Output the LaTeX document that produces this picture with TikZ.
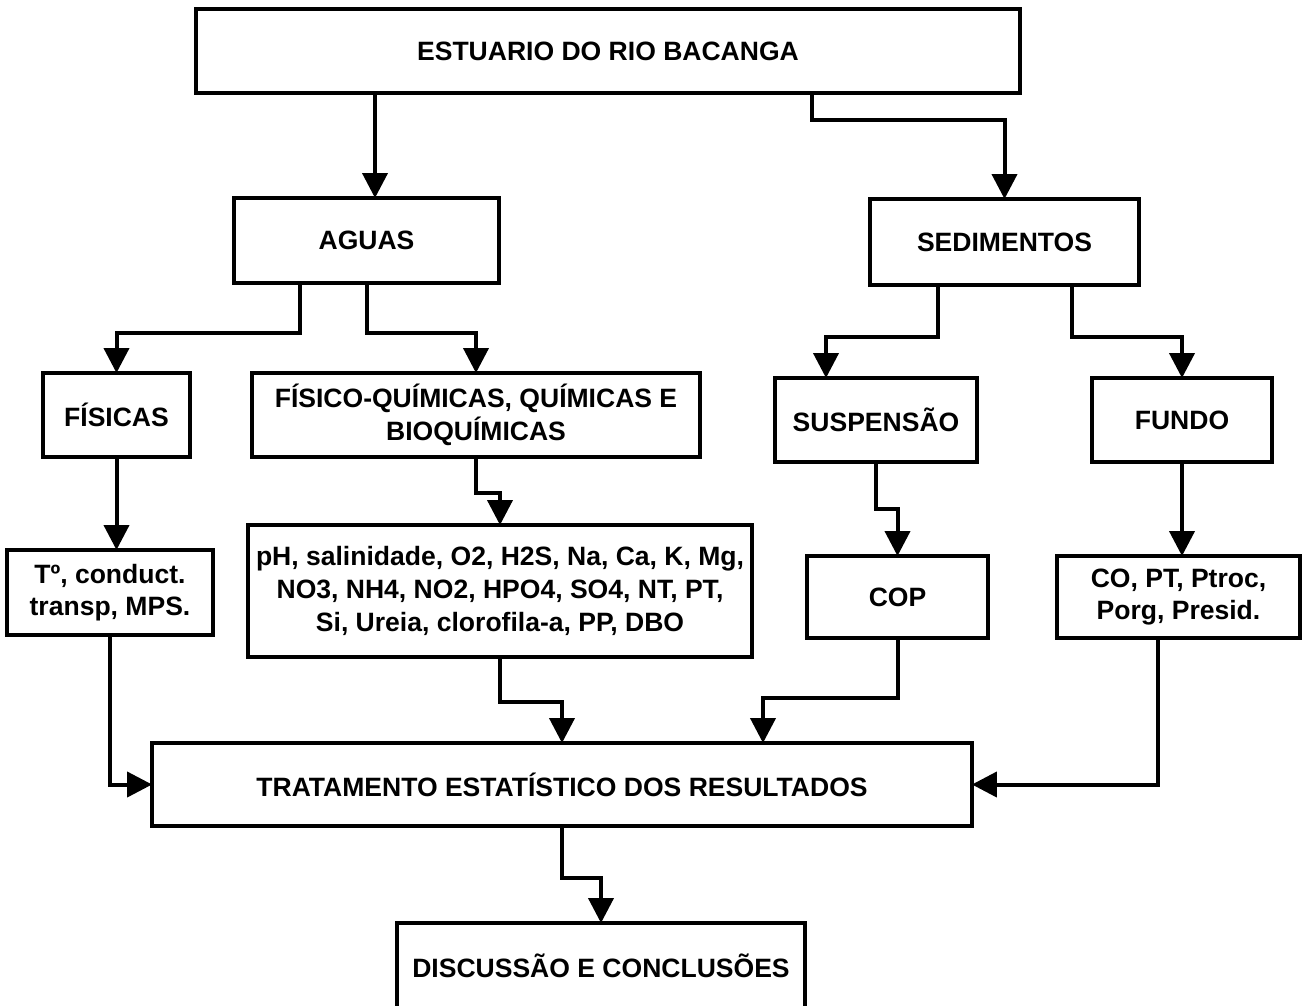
\documentclass[tikz,border=0pt]{standalone}
\usepackage{fontspec}
\setmainfont{Liberation Sans}
\usetikzlibrary{arrows.meta,calc}

\begin{document}
\begin{tikzpicture}[x=0.02cm,y=-0.02cm]
        \tikzstyle{box}=[draw, line width=0.08cm, inner sep=2pt, outer sep=0pt, align=center, font=\fontsize{15.1}{18.6}\selectfont\bfseries]
        \tikzstyle{arr}=[line width=0.08cm, -{Triangle[width=0.5cm,length=0.5cm]}]
        \useasboundingbox (0,0) rectangle (1302,1005);

            \node[box, minimum width=16.48cm, minimum height=1.68cm](rio) at (608,51){ESTUARIO DO RIO BACANGA};

            \node[box, minimum width=5.3cm, minimum height=1.7cm](aguas) at (366.5,240.5){AGUAS};
            \node[box, minimum width=5.38cm, minimum height=1.72cm](sedim) at (1004.5,242){SEDIMENTOS};

            \node[box, minimum width=2.94cm, minimum height=1.68cm](fis) at (116.5,415){FÍSICAS};
            \node[box, minimum width=8.96cm, minimum height=1.68cm](fq) at (476,415){FÍSICO-QUÍMICAS, QUÍMICAS E\\BIOQUÍMICAS};
            \node[box, minimum width=4.04cm, minimum height=1.68cm](susp) at (876,420){SUSPENSÃO};
            \node[box, minimum width=3.6cm, minimum height=1.68cm](fundo) at (1182,420){FUNDO};

            \node[box, minimum width=4.12cm, minimum height=1.7cm](tc) at (110,592.5){Tº, conduct.\\transp, MPS.};
            \node[box, minimum width=10.08cm, minimum height=2.64cm](param) at (500,591){pH, salinidade, O2, H2S, Na, Ca, K, Mg,\\NO3, NH4, NO2, HPO4, SO4, NT, PT,\\Si, Ureia, clorofila-a, PP, DBO};
            \node[box, minimum width=3.62cm, minimum height=1.64cm](cop) at (897.5,597){COP};
            \node[box, minimum width=4.86cm, minimum height=1.64cm](co) at (1178.5,597){CO, PT, Ptroc,\\Porg, Presid.};

            \node[box, minimum width=16.4cm, minimum height=1.66cm](trat) at (562,784.5){TRATAMENTO ESTATÍSTICO DOS RESULTADOS};
            \node[box, minimum width=8.16cm, minimum height=1.7cm](disc) at (601,965.5){DISCUSSÃO E CONCLUSÕES};

            \draw[arr] ($(rio.south -| aguas.north)+(8.5,0)$) -- ($(aguas.north)+(8.5,0)$);
            \draw[arr] (rio.south) ++(204,0) -- ++(0,27) -| (sedim.north);

            \draw[arr] (aguas.south) ++(-66.5,0) -- ++(0,50) -| (fis.north);
            \draw[arr] (aguas.south) -- ++(0,50) -| (fq.north);
            \draw[arr] (sedim.south) ++(-66.5,0) -- ++(0,52) -| ($(susp.north)+(-50,0)$);
            \draw[arr] (sedim.south) ++(67.5,0) -- ++(0,52) -| (fundo.north);

            \draw[arr] (fis.south) -- (fis.south |- tc.north);
            \draw[arr] (fq.south) -- ++(0,36) -| (param.north);
            \draw[arr] (susp.south) -- ++(0,47) -| (cop.north);
            \draw[arr] (fundo.south) -- (fundo.south |- co.north);

            \draw[arr] (tc.south) |- (trat.west);
            \draw[arr] (param.south) -- ++(0,45) -| (trat.north);
            \draw[arr] (cop.south) -- ++(0,60) -| ($(trat.north)+(201,0)$);
            \draw[arr] (co.south) ++(-20.5,0) |- (trat.east);

            \draw[arr] (trat.south) -- ++(0,52) -| (disc.north);

        \end{tikzpicture}
\end{document}
